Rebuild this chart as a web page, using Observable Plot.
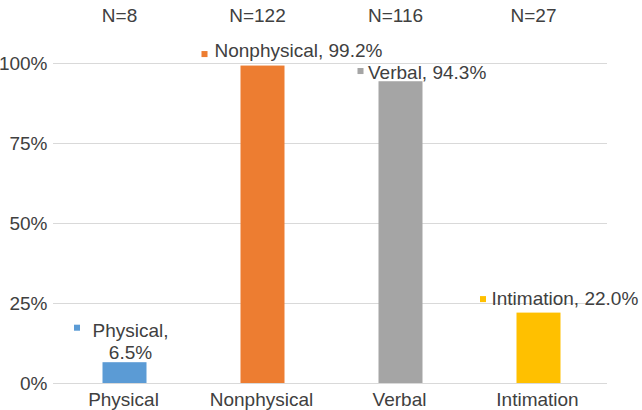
<!DOCTYPE html>
<html>
<head>
<meta charset="utf-8">
<script src="https://cdn.jsdelivr.net/npm/d3@7"></script>
<script src="https://cdn.jsdelivr.net/npm/@observablehq/plot@0.6"></script>
<style>
  html, body { margin: 0; padding: 0; background: #fff; }
  #chart svg { overflow: visible; }
</style>
</head>
<body>
<div id="chart"></div>
<script>
const categories = ["Physical", "Nonphysical", "Verbal", "Intimation"];
const percents = [6.5, 99.2, 94.3, 22.0];
const counts = [8, 122, 116, 27];
const yTicks = [0, 25, 50, 75, 100];
const barColors = ["#5B9BD5", "#ED7D31", "#A5A5A5", "#FFC000"];

const data = categories.map((c, i) => ({cat: c, val: percents[i], n: counts[i]}));
const only = name => data.filter(d => d.cat === name);
const txt = "#404040";

const lbl = (name, dx, dy) => Plot.text(only(name), {
  x: "cat", y: "val", text: d => `${d.cat}, ${d.val.toFixed(1)}%`,
  textAnchor: "start", dx, dy, fill: txt
});
const key = (name, dx, dy) => Plot.dot(only(name), {
  x: "cat", y: "val", symbol: "square", r: 3.4, fill: "cat", dx, dy
});

const chart = Plot.plot({
  width: 642,
  height: 410,
  marginLeft: 53,
  marginRight: 35,
  marginTop: 63,
  marginBottom: 27,
  style: {fontFamily: "'Liberation Sans', Arial, sans-serif", fontSize: "19px", color: txt, background: "#fff"},
  x: {domain: categories, paddingInner: 0.68, paddingOuter: 0.34, label: null},
  y: {domain: [0, 100], label: null},
  color: {domain: categories, range: barColors},
  marks: [
    Plot.gridY(yTicks, {stroke: "#d9d9d9", strokeOpacity: 1, strokeWidth: 1.2}),
    Plot.barY(data, {x: "cat", y: "val", fill: "cat", dx: 1.5}),
    Plot.axisY({ticks: yTicks, tickSize: 0, tickPadding: 6, tickFormat: d => d + "%", label: null, fill: txt}),
    Plot.axisX({tickSize: 0, tickPadding: 9, label: null, fill: txt}),
    Plot.text(data, {x: "cat", text: d => `N=${d.n}`, frameAnchor: "top", dy: -55, dx: -4, fill: txt}),
    lbl("Nonphysical", -47, -14.7),
    lbl("Verbal", -31.5, -9.3),
    lbl("Intimation", -46, -13.7),
    Plot.text(only("Physical"), {
      x: "cat", y: "val", text: d => `${d.cat},\n${d.val.toFixed(1)}%`,
      textAnchor: "middle", lineAnchor: "bottom", lineHeight: 1.16, dx: 7, dy: -3.5, fill: txt
    }),
    key("Nonphysical", -57, -12),
    key("Verbal", -39, -10.7),
    key("Intimation", -54.5, -14),
    key("Physical", -46.5, -35)
  ]
});
document.getElementById("chart").appendChild(chart);
</script>
</body>
</html>
